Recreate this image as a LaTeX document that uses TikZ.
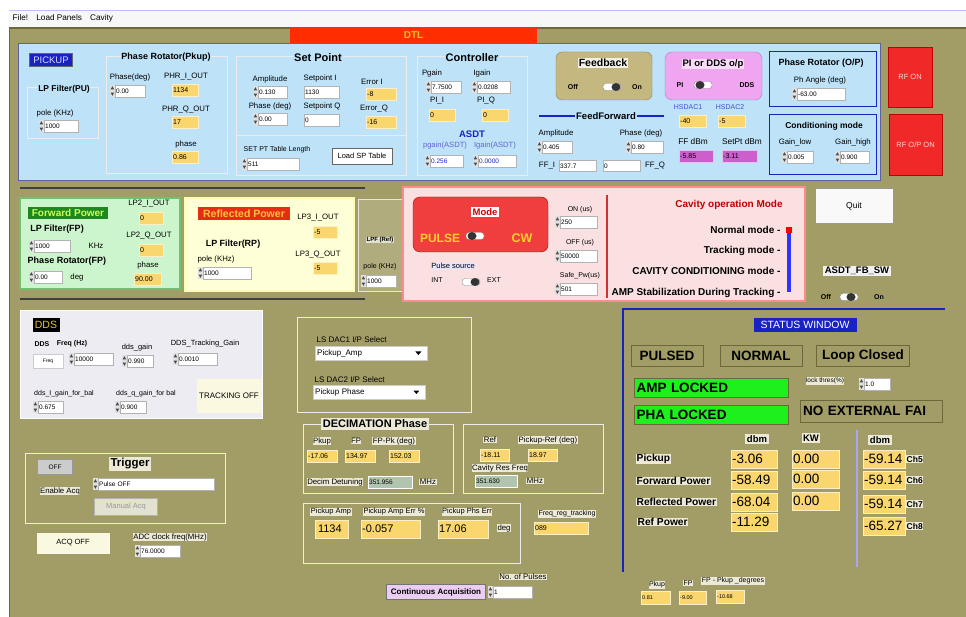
\documentclass[tikz,border=0pt]{standalone}
\usepackage{fontspec}
\setmainfont{Liberation Sans}
\usetikzlibrary{positioning}

\definecolor{guibg}{RGB}{162,157,103}
\definecolor{guidk}{RGB}{108,104,58}
\definecolor{panelblue}{RGB}{190,226,248}
\definecolor{indyel}{RGB}{250,214,110}
\definecolor{modepink}{RGB}{250,224,224}
\definecolor{modered}{RGB}{240,62,62}
\definecolor{lockgreen}{RGB}{30,240,30}
\definecolor{fbtan}{RGB}{196,184,128}
\definecolor{ddspink}{RGB}{240,165,240}
\definecolor{dbmpurple}{RGB}{205,95,205}
\definecolor{rfred}{RGB}{240,40,40}
\definecolor{navy}{RGB}{25,35,195}
\definecolor{fwdgreen}{RGB}{205,245,205}
\definecolor{refyel}{RGB}{255,255,215}
\definecolor{ddsgrey}{RGB}{236,236,242}
\definecolor{btncream}{RGB}{250,248,225}
\definecolor{lblbg}{RGB}{236,234,215}

\newcommand{\fsz}[1]{\fontsize{#1}{#1}\selectfont}

\tikzset{
  lbl/.style={font=\fsz{7.8}, inner sep=0.5pt},
  lblbox/.style={lbl, fill=lblbg},
  ttl/.style={font=\bfseries\fsz{9}, inner sep=0.7pt},
  grp/.style={draw=white!85!gray, line width=0.8pt},
  ctl/.style={anchor=west, draw=black!30, fill=white, font=\fsz{6.5}, inner xsep=1pt, inner ysep=0pt,
    text width=#1pt, minimum height=12pt, align=left},
  ind/.style={anchor=west, draw=white!60!indyel, fill=indyel, font=\fsz{7}, inner xsep=1pt, inner ysep=0pt,
    text width=#1pt, minimum height=12pt, align=left},
  bigind/.style={ind=#1, font=\fsz{13.5}, minimum height=18pt},
  stat/.style={draw=guidk, line width=1pt, fill=guibg, font=\bfseries\fsz{13.5}, minimum height=20pt},
  rowlbl/.style={lblbox, font=\bfseries\fsz{10.2}, anchor=west},
  dd/.style={anchor=west, fill=white, draw=black!20, font=\fsz{8}, text width=#1pt, align=left, minimum height=14pt, inner xsep=2pt},
  pics/toggle/.style={code={
    \draw[black!45, fill=white, rounded corners=3pt] (-9,-3.5) rectangle (9,3.5);
    \fill[black!80] (#1,0) ellipse [x radius=4.5pt, y radius=4pt];
  }}
}

% numeric control with spinner
\newcommand{\numctl}[4]{%
  \node[ctl=#3] (#1) at (#2) {#4};
  \fill[black!12] ([xshift=-5pt]#1.north west) rectangle (#1.south west);
  \fill[black!70] ([xshift=-4.4pt,yshift=-4.6pt]#1.north west) -- ([xshift=-0.8pt,yshift=-4.6pt]#1.north west)
    -- ([xshift=-2.6pt,yshift=-1.4pt]#1.north west) -- cycle;
  \fill[black!70] ([xshift=-4.4pt,yshift=4.6pt]#1.south west) -- ([xshift=-0.8pt,yshift=4.6pt]#1.south west)
    -- ([xshift=-2.6pt,yshift=1.4pt]#1.south west) -- cycle;
}

\begin{document}
\begin{tikzpicture}[x=1pt, y=-1pt]
  \useasboundingbox (0,0) rectangle (966,617);

  % Window and menu
  \fill[white] (0,0) rectangle (966,617);
  \fill[black!3] (9,10) rectangle (966,27);
  \draw[blue!25] (9,10) -- (966,10);
  \node[lbl, anchor=west, font=\fsz{8.2}] (menu) at (12,18) {File!\quad Load Panels\quad Cavity};
  \fill[guibg] (9,27) rectangle (966,617);
  \draw[guidk, line width=2pt] (9,28) -- (966,28);
  \draw[guidk, line width=1pt] (9.5,27) -- (9.5,617);

  % DTL bar and top panel
  \node[fill={rgb,255:red,255;green,45;blue,0}, text={rgb,255:red,250;green,190;blue,40}, font=\bfseries\fsz{10},
    minimum width=247pt, minimum height=16pt, inner sep=1pt] (dtl) at (413.5,35) {DTL};
  \draw[fill=panelblue, draw=blue!25!gray] (18,43) rectangle (880,180);

  % Pickup
  \node[fill=navy, draw=black!60, text=white!85!blue, font=\fsz{9.5}, minimum width=43pt, minimum height=13pt, inner sep=1pt] (pickup) at (51,60) {PICKUP};
  \draw[grp] (27,87) rectangle (98,138);
  \node[ttl, fill=panelblue, font=\bfseries\fsz{8.5}] (pulp) at (64,89) {LP Filter(PU)};
  \node[lbl, anchor=west] (pupolel) at (36,113) {pole (KHz)};
  \numctl{pupole}{44,126}{32}{1000}

  \draw[grp] (106,56) rectangle (227,173);
  \node[ttl, fill=panelblue] (phrt) at (166,57) {Phase Rotator(Pkup)};
  \node[lbl] (phrdegl) at (130,77) {Phase(deg)};
  \numctl{phrdeg}{115,91}{28}{0.00}
  \node[lbl] (phril) at (186,77) {PHR\_I\_OUT};
  \node[ind=24] (phri) at (172,90) {1134};
  \node[lbl] (phrql) at (186,110) {PHR\_Q\_OUT};
  \node[ind=24] (phrq) at (172,122) {17};
  \node[lbl] (phrphl) at (186,144) {phase};
  \node[ind=24] (phrph) at (172,157) {0.86};

  % Set point
  \draw[grp] (236,56) rectangle (406,135);
  \draw[grp] (236,135) rectangle (406,175);
  \node[ttl, fill=panelblue, font=\bfseries\fsz{11}] (spt) at (318,58) {Set Point};
  \node[lbl] (spampl) at (270,79) {Amplitude};
  \numctl{spamp}{258,92}{27}{0.130}
  \node[lbl, anchor=west] (spil) at (303,78) {Setpoint I};
  \node[ctl=33] (spi) at (304,92) {1130};
  \node[lbl] (spphl) at (270,106) {Phase (deg)};
  \numctl{spph}{258,119}{27}{0.00}
  \node[lbl, anchor=west] (spql) at (303,106) {Setpoint Q};
  \node[ctl=33] (spq) at (304,120) {0};
  \node[lbl] (erril) at (372,82) {Error I};
  \node[ind=28] (erri) at (366,94) {-8};
  \node[lbl] (errql) at (374,109) {Error\_Q};
  \node[ind=28] (errq) at (366,122) {-16};
  \node[lbl, anchor=west, font=\fsz{7}] (sptll) at (243,150) {SET PT Table Length};
  \numctl{sptl}{247,164}{50}{511}
  \node[draw=black!60, fill=white, font=\fsz{7.5}, minimum width=60pt, minimum height=16pt, inner sep=1pt] (loadsp) at (362,156) {Load SP Table};

  % Controller
  \draw[grp] (417,56) rectangle (527,175);
  \node[ttl, fill=panelblue, font=\bfseries\fsz{11}] (ctrlt) at (472,58) {Controller};
  \node[lbl] (pgainl) at (432,73) {Pgain};
  \numctl{pgain}{431,87}{28}{7.7500}
  \node[lbl] (igainl) at (482,73) {Igain};
  \numctl{igain}{477,87}{31}{0.0208}
  \node[lbl] (piil) at (437,101) {PI\_I};
  \node[ind=24] (pii) at (429,115) {0};
  \node[lbl] (piql) at (486,101) {PI\_Q};
  \node[ind=24] (piq) at (482,115) {0};
  \node[ttl, text=navy, font=\bfseries\fsz{9.5}] (asdt) at (472,134) {ASDT};
  \node[lbl, text=navy!70, font=\fsz{7.6}] (pgasdtl) at (445,146) {pgain(ASDT)};
  \node[lbl, text=navy!70, font=\fsz{7.6}] (igasdtl) at (495,146) {Igain(ASDT)};
  \numctl{pgasdt}{430,161}{31}{\textcolor{navy}{0.256}}
  \numctl{igasdt}{478,161}{36}{\textcolor{navy}{0.0000}}

  % Feedback and feed forward
  \draw[fill=fbtan, draw=fbtan!70!black, rounded corners=6pt] (556,52) rectangle (652,100);
  \node[ttl, fill=white!80!fbtan, font=\bfseries\fsz{10.5}] (fbt) at (603,63) {Feedback};
  \node[ttl, font=\bfseries\fsz{7}] (fboff) at (573,87) {Off};
  \pic (fbsw) at (612,87) {toggle=4};
  \node[ttl, font=\bfseries\fsz{7}] (fbon) at (637,87) {On};
  \coordinate (ffa) at (539,116);
  \coordinate (ffb) at (664,116);
  \draw[navy, line width=2pt] (ffa) -- (ffb);
  \node[ttl, fill=panelblue, font=\bfseries\fsz{9.5}] (fft) at (606,116) {FeedForward};
  \node[lbl] (ffampl) at (556,133) {Amplitude};
  \numctl{ffamp}{542,147}{28}{0.405}
  \node[lbl] (ffphl) at (641,133) {Phase (deg)};
  \numctl{ffph}{631,147}{30}{0.80}
  \node[lbl] (ffil) at (547,166) {FF\_I};
  \node[ctl=35, minimum height=11pt] (ffi) at (559,166) {337.7};
  \node[ctl=35, minimum height=11pt] (ffq) at (603,166) {0};
  \node[lbl] (ffql) at (655,166) {FF\_Q};

  % PI or DDS output
  \draw[fill=ddspink, draw=ddspink!75!black, rounded corners=7pt] (665,52) rectangle (762,100);
  \node[ttl, fill=white!60!ddspink, font=\bfseries\fsz{9.5}] (pidds) at (713,64) {PI or DDS o/p};
  \node[ttl, font=\bfseries\fsz{7}] (pil) at (680,85) {PI};
  \pic (piddssw) at (703,85) {toggle=-3};
  \node[ttl, font=\bfseries\fsz{7}] (ddsl) at (747,85) {DDS};
  \node[lbl, text=navy!80, font=\fsz{7}] (hs1l) at (688,107) {HSDAC1};
  \node[lbl, text=navy!80, font=\fsz{7}] (hs2l) at (730,107) {HSDAC2};
  \node[ind=25] (hs1) at (679,121) {-40};
  \node[ind=25] (hs2) at (718,121) {-5};
  \node[lbl, font=\fsz{8.3}] (ffdbml) at (693,142) {FF dBm};
  \node[lbl, font=\fsz{8.3}] (spdbml) at (742,142) {SetPt dBm};
  \node[ind=32, fill=dbmpurple, draw=white!60!dbmpurple] (ffdbm) at (679,156) {-5.85};
  \node[ind=33, fill=dbmpurple, draw=white!60!dbmpurple] (spdbm) at (722,156) {-3.11};

  % Output phase rotator and conditioning
  \draw[navy, line width=1pt] (769,52) rectangle (876,107);
  \node[ttl] (oprt) at (821,63) {Phase Rotator (O/P)};
  \node[lbl] (phangl) at (820,80) {Ph Angle (deg)};
  \numctl{phang}{797,94}{46}{-63.00}
  \draw[navy, line width=1pt] (769,115) rectangle (876,175);
  \node[ttl, font=\bfseries\fsz{8.5}] (condt) at (824,126) {Conditioning mode};
  \node[lbl] (glowl) at (795,142) {Gain\_low};
  \node[lbl] (ghighl) at (853,142) {Gain\_high};
  \numctl{glow}{787,157}{24}{0.005}
  \numctl{ghigh}{840,157}{27}{0.900}

  % RF indicators
  \node[fill=rfred, draw=red!75!black, text=white!85!red, font=\fsz{7.5}, minimum width=44pt, minimum height=60pt] (rfon) at (910,77) {RF ON};
  \node[fill=rfred, draw=red!75!black, text=white!85!red, font=\fsz{7.5}, minimum width=53pt, minimum height=61pt] (rfop) at (915.5,144.5) {RF O/P ON};

  % Separator lines
  \draw[black!75, line width=2pt] (20,188) -- (365,188);
  \draw[black!75, line width=2pt] (20,299) -- (365,299);

  % Forward power
  \draw[fill=fwdgreen, draw=green!55!black!55, line width=1.2pt] (20,198) rectangle (180,289);
  \node[fill={rgb,255:red,30;green,135;blue,30}, text={rgb,255:red,200;green,255;blue,90}, font=\bfseries\fsz{10},
    minimum width=80pt, minimum height=12pt, inner sep=1pt] (fwdt) at (68,213) {Forward Power};
  \node[ttl] (fplpl) at (57,229) {LP Filter(FP)};
  \numctl{fplp}{34,246}{34}{1000}
  \node[lbl] (khz) at (96,246) {KHz};
  \node[ttl] (fpphl) at (67,261) {Phase Rotator(FP)};
  \numctl{fpph}{34,277}{26}{0.00}
  \node[lbl] (degl) at (77,277) {deg};
  \node[lbl] (lp2il) at (149,204) {LP2\_I\_OUT};
  \node[ind=22] (lp2i) at (139,218) {0};
  \node[lbl] (lp2ql) at (149,236) {LP2\_Q\_OUT};
  \node[ind=22] (lp2q) at (139,250) {0};
  \node[lbl] (fpphasel) at (148,265) {phase};
  \node[ind=25] (fpphase) at (134,279) {90.00};

  % Reflected power
  \draw[fill=refyel, draw=white!70!yellow, line width=1.2pt] (185,198) rectangle (354,291);
  \node[fill={rgb,255:red,230;green,45;blue,20}, text={rgb,255:red,255;green,195;blue,60}, font=\bfseries\fsz{10.5},
    minimum width=92pt, minimum height=13pt, inner sep=1pt] (reft) at (244,214) {Reflected Power};
  \node[ttl] (rplpl) at (233,244) {LP Filter(RP)};
  \node[lbl] (rppolel) at (216,259) {pole (KHz)};
  \numctl{rplp}{203,273}{46}{1000}
  \node[lbl] (lp3il) at (318,218) {LP3\_I\_OUT};
  \node[ind=22] (lp3i) at (313,232) {-5};
  \node[lbl] (lp3ql) at (318,255) {LP3\_Q\_OUT};
  \node[ind=22] (lp3q) at (313,268) {-5};

  % Reference low pass
  \draw[fill=guibg!85!white, draw=white!75!guibg, line width=1pt] (358,200) rectangle (402,292);
  \node[ttl, font=\bfseries\fsz{6}, fill=white!70!guibg] (lpfref) at (380,240) {LPF (Ref)};
  \node[lbl, font=\fsz{7}] (refpolel) at (380,267) {pole (KHz)};
  \numctl{refpole}{366,281}{28}{1000}

  % Mode panel
  \draw[fill=modepink, draw=red!45!white, line width=1.2pt] (403,187) rectangle (805,301);
  \draw[fill=modered, draw=red!70!black, rounded corners=7pt] (413,197) rectangle (548,252);
  \node[fill=white, text=red!80!black, font=\bfseries\fsz{9.5}, inner sep=1.5pt] (model) at (485,212) {Mode};
  \node[font=\bfseries\fsz{12}, text={rgb,255:red,255;green,210;blue,40}] (pulse) at (440,238) {PULSE};
  \pic (modesw) at (475,236) {toggle=-3};
  \node[font=\bfseries\fsz{12.5}, text={rgb,255:red,255;green,210;blue,40}] (cw) at (522,238) {CW};
  \node[lbl, fill=white!90!blue, font=\fsz{7.5}] (psrc) at (453,266) {Pulse source};
  \node[lbl, font=\fsz{7}] (intl) at (437,280) {INT};
  \pic (psrcsw) at (471,282) {toggle=4};
  \node[lbl, font=\fsz{7}] (extl) at (494,280) {EXT};
  \draw[red!75!black!80, line width=1.2pt] (607,195) -- (607,298);
  \node[lbl, font=\fsz{7}] (onl) at (580,210) {ON (us)};
  \numctl{onus}{560,222}{35}{250}
  \node[lbl, font=\fsz{7}] (offl) at (580,243) {OFF (us)};
  \numctl{offus}{560,256}{35}{50000}
  \node[lbl, font=\fsz{7}] (safel) at (580,276) {Safe\_Pw(us)};
  \numctl{safepw}{560,289}{35}{501}

  % Cavity operation mode
  \node[font=\bfseries\fsz{10}, text=red!75!black] (cavt) at (729,205) {Cavity operation Mode};
  \fill[blue!80] (787,231) rectangle (791,292);
  \fill[red] (786,227) rectangle (792,233);
  \node[font=\bfseries\fsz{10}, anchor=east] (mnorm) at (784,230) {Normal mode -};
  \node[font=\bfseries\fsz{10}, anchor=east] (mtrack) at (784,251) {Tracking mode -};
  \node[font=\bfseries\fsz{10}, anchor=east] (mcond) at (784,271) {CAVITY CONDITIONING mode -};
  \node[font=\bfseries\fsz{10}, anchor=east] (mamp) at (784,293) {AMP Stabilization During Tracking -};

  % Quit and ASDT switch
  \node[fill=white!95!gray, draw=black!40, font=\fsz{8.5}, minimum width=78pt, minimum height=35pt] (quit) at (854,206) {Quit};
  \node[fill=white!88!gray, font=\bfseries\fsz{9.5}, inner sep=1.5pt] (asdtsw) at (857,271) {ASDT\_FB\_SW};
  \node[ttl, font=\bfseries\fsz{7}] (swoff) at (826,297) {Off};
  \pic (asdttg) at (849,297) {toggle=2};
  \node[ttl, font=\bfseries\fsz{7}] (swon) at (879,297) {On};

  % DDS panel
  \draw[fill=ddsgrey, draw=white, line width=1pt] (20,311) rectangle (262,418);
  \node[fill=black, text={rgb,255:red,230;green,200;blue,40}, font=\fsz{10.5}, minimum width=27pt, minimum height=14pt, inner sep=1pt] (ddst) at (46,325) {DDS};
  \node[lbl, font=\bfseries\fsz{7}] (ddsfl) at (42,344) {DDS};
  \node[lbl, font=\bfseries\fsz{7}] (freqhz) at (72,344) {Freq (Hz)};
  \node[fill=white, draw=black!20, font=\fsz{5}, minimum width=30pt, minimum height=14pt] (freqbtn) at (48,361) {Freq};
  \numctl{ddsfreq}{74,359}{37}{10000}
  \node[lbl, font=\fsz{7.5}] (ddsgainl) at (137,348) {dds\_gain};
  \numctl{ddsgain}{127,361}{24}{0.990}
  \node[lbl, font=\fsz{7.5}] (ddstrkl) at (205,344) {DDS\_Tracking\_Gain};
  \numctl{ddstrk}{178,359}{37}{0.0010}
  \node[lbl, font=\fsz{7}] (ddsil) at (64,394) {dds\_I\_gain\_for\_bal};
  \numctl{ddsi}{38,407}{23}{0.675}
  \node[lbl, font=\fsz{7}] (ddsql) at (146,394) {dds\_q\_gain\_for bal};
  \numctl{ddsq}{120,407}{24}{0.900}
  \node[fill=btncream, font=\fsz{8}, minimum width=65pt, minimum height=34pt, inner sep=1pt] (trkoff) at (229,396) {TRACKING OFF};

  % LS DAC select
  \draw[grp] (297,317) rectangle (471,412);
  \node[lbl, anchor=west, font=\fsz{8}] (dac1l) at (316,340) {LS DAC1 I/P Select};
  \node[dd=108] (dac1) at (315,353) {Pickup\_Amp};
  \fill ([xshift=-12pt,yshift=1.5pt]dac1.east) -- ++(6,0) -- ++(-3,3.5) -- cycle;
  \node[lbl, anchor=west, font=\fsz{8}] (dac2l) at (314,380) {LS DAC2 I/P Select};
  \node[dd=108] (dac2) at (313,392) {Pickup Phase};
  \fill ([xshift=-12pt,yshift=1.5pt]dac2.east) -- ++(6,0) -- ++(-3,3.5) -- cycle;

  % Decimation phase
  \draw[grp] (303,424) rectangle (453,493);
  \node[fill=lblbg, font=\bfseries\fsz{11}, inner sep=1.5pt] (dect) at (375,424) {DECIMATION Phase};
  \node[lblbox] (dpkl) at (322,441) {Pkup};
  \node[lblbox] (dfpl) at (356,441) {FP};
  \node[lblbox] (dfppkl) at (394,441) {FP-Pk (deg)};
  \node[ind=28] (dpk) at (307,456) {-17.06};
  \node[ind=28] (dfp) at (345,456) {134.97};
  \node[ind=28] (dfppk) at (389,456) {152.03};
  \node[lblbox] (detunel) at (335,482) {Decim Detuning};
  \node[ctl=42, fill=green!8!lightgray, draw=white] (detune) at (368,482) {351.956};
  \node[lblbox] (mhz1) at (428,482) {MHz};

  \draw[grp] (463,424) rectangle (603,493);
  \node[lblbox] (refl) at (490,440) {Ref};
  \node[lblbox] (pkrefl) at (548,440) {Pickup-Ref (deg)};
  \node[ind=27] (refph) at (480,455) {-18.11};
  \node[ind=27] (pkref) at (528,455) {18.97};
  \node[lblbox] (cavresl) at (500,468) {Cavity Res Freq};
  \node[ctl=40, fill=green!8!lightgray, draw=white] (cavres) at (475,481) {351.630};
  \node[lblbox] (mhz2) at (535,481) {MHz};

  % Pickup errors
  \draw[grp] (303,503) rectangle (520,563);
  \node[lblbox, font=\fsz{7.5}] (pkampl) at (331,512) {Pickup Amp};
  \node[lblbox, font=\fsz{7.5}] (pkerrl) at (394,512) {Pickup Amp Err \%};
  \node[lblbox, font=\fsz{7.5}] (pkphsl) at (467,512) {Pickup Phs Err};
  \node[ind=31, font=\fsz{11}, minimum height=18pt] (pkamp) at (315,529) {\,1134};
  \node[ind=57, font=\fsz{11}, minimum height=18pt] (pkerr) at (361,529) {-0.057};
  \node[ind=48, font=\fsz{11}, minimum height=18pt] (pkphs) at (438,529) {17.06};
  \node[lblbox] (degl2) at (504,528) {deg};
  \node[lblbox, font=\fsz{7}] (fregl) at (567,514) {Freq\_reg\_tracking};
  \node[ind=52] (freg) at (534,528) {089};

  % Continuous acquisition
  \node[fill={rgb,255:red,236;green,205;blue,242}, draw=black!55, font=\bfseries\fsz{8}, minimum width=99pt, minimum height=15pt, inner sep=1pt] (contacq) at (436,592) {Continuous Acquisition};
  \node[lblbox] (npulsel) at (523,577) {No. of Pulses};
  \numctl{npulse}{493,592}{37}{1}

  % Trigger
  \draw[grp] (25,453) rectangle (225,523);
  \node[fill=lblbg, font=\bfseries\fsz{11.5}, inner sep=1.2pt] (trigt) at (130,464) {Trigger};
  \node[fill=black!20, draw=black!40, font=\fsz{6.5}, minimum width=35pt, minimum height=15pt] (trigoff) at (55,467) {OFF};
  \node[lblbox] (enacq) at (60,491) {Enable Acq};
  \numctl{trigsel}{98,484}{114}{Pulse OFF}
  \node[fill=white!70!guibg, draw=black!30, text=black!40, font=\fsz{7.5}, minimum width=63pt, minimum height=17pt] (manacq) at (126,507) {Manual Acq};
  \node[fill=btncream, font=\fsz{7.5}, minimum width=73pt, minimum height=21pt] (acqoff) at (73,543) {ACQ OFF};
  \node[lblbox] (adcl) at (170,537) {ADC clock freq(MHz)};
  \numctl{adcclk}{140,551}{38}{76.0000}

  % Status window
  \draw[navy, line width=2pt] (622,309) -- (945,309);
  \draw[navy, line width=2pt] (623,309) -- (623,572);
  \node[fill=navy, text=white, font=\fsz{10.5}, minimum width=103pt, minimum height=14pt, inner sep=1pt] (statt) at (805,325) {STATUS WINDOW};
  \node[stat, minimum width=72pt] (pulsed) at (667,356) {PULSED};
  \node[stat, minimum width=82pt] (normal) at (761,356) {NORMAL};
  \node[stat, minimum width=93pt] (loopc) at (863,356) {Loop Closed};
  \node[stat, fill=lockgreen, text width=150pt, align=left, minimum height=19pt, inner xsep=2pt] (amplk) at (711.5,388) {AMP LOCKED};
  \node[stat, fill=lockgreen, text width=150pt, align=left, minimum height=19pt, inner xsep=2pt] (phalk) at (711.5,415) {PHA LOCKED};
  \node[lblbox, font=\fsz{6.5}] (lockthl) at (825,381) {lock thres(\%)};
  \numctl{lockthr}{864,384}{24}{1.0}
  \node[stat, text width=136pt, align=left, minimum height=22pt, inner xsep=3pt] (noext) at (871,411) {NO EXTERNAL FAI};

  \node[lblbox, font=\bfseries\fsz{9.5}, inner sep=1.5pt] (dbm1) at (757,439) {dbm};
  \node[lblbox, font=\bfseries\fsz{9.5}, inner sep=1.5pt] (kwl) at (811,438) {KW};
  \draw[blue!35!white, line width=1.2pt] (857,430) -- (857,567);
  \node[lblbox, font=\bfseries\fsz{9.5}, inner sep=1.5pt] (dbm2) at (880,440) {dbm};

  \node[rowlbl] (rpk) at (636,459) {Pickup};
  \node[rowlbl] (rfp) at (636,481) {Forward Power};
  \node[rowlbl] (rrp) at (636,502) {Reflected Power};
  \node[rowlbl] (rref) at (637,522) {Ref Power};
  \node[bigind=44] (pkdbm) at (731,459) {-3.06};
  \node[bigind=44] (fpdbm) at (731,480) {-58.49};
  \node[bigind=44] (rpdbm) at (731,502) {-68.04};
  \node[bigind=44] (refdbm) at (731,522) {-11.29};
  \node[bigind=45] (pkkw) at (792,459) {0.00};
  \node[bigind=45] (fpkw) at (792,479) {0.00};
  \node[bigind=45] (rpkw) at (792,501) {0.00};
  \node[bigind=40] (ch5) at (863,459) {-59.14};
  \node[bigind=40] (ch6) at (863,480) {-59.14};
  \node[bigind=40] (ch7) at (863,504) {-59.14};
  \node[bigind=40] (ch8) at (863,526) {-65.27};
  \node[lblbox, font=\bfseries\fsz{8.5}, anchor=west] (ch5l) at (906,459) {Ch5};
  \node[lblbox, font=\bfseries\fsz{8.5}, anchor=west] (ch6l) at (906,480) {Ch6};
  \node[lblbox, font=\bfseries\fsz{8.5}, anchor=west] (ch7l) at (906,504) {Ch7};
  \node[lblbox, font=\bfseries\fsz{8.5}, anchor=west] (ch8l) at (906,526) {Ch8};

  % FP - Pkup readout
  \node[lblbox, font=\fsz{7}] (bpkl) at (657,585) {Pkup};
  \node[lblbox, font=\fsz{7}] (bfpl) at (688,583) {FP};
  \node[lblbox, font=\fsz{7}] (bdegl) at (733,581) {FP - Pkup \_degrees};
  \node[ind=27, font=\fsz{5.5}, minimum height=13pt] (bpk) at (641,598) {0.81};
  \node[ind=25, font=\fsz{5.5}, minimum height=13pt] (bfp) at (679,598) {-9.00};
  \node[ind=26, font=\fsz{5.5}, minimum height=13pt] (bdeg) at (716,597) {-10.68};
\end{tikzpicture}
\end{document}
